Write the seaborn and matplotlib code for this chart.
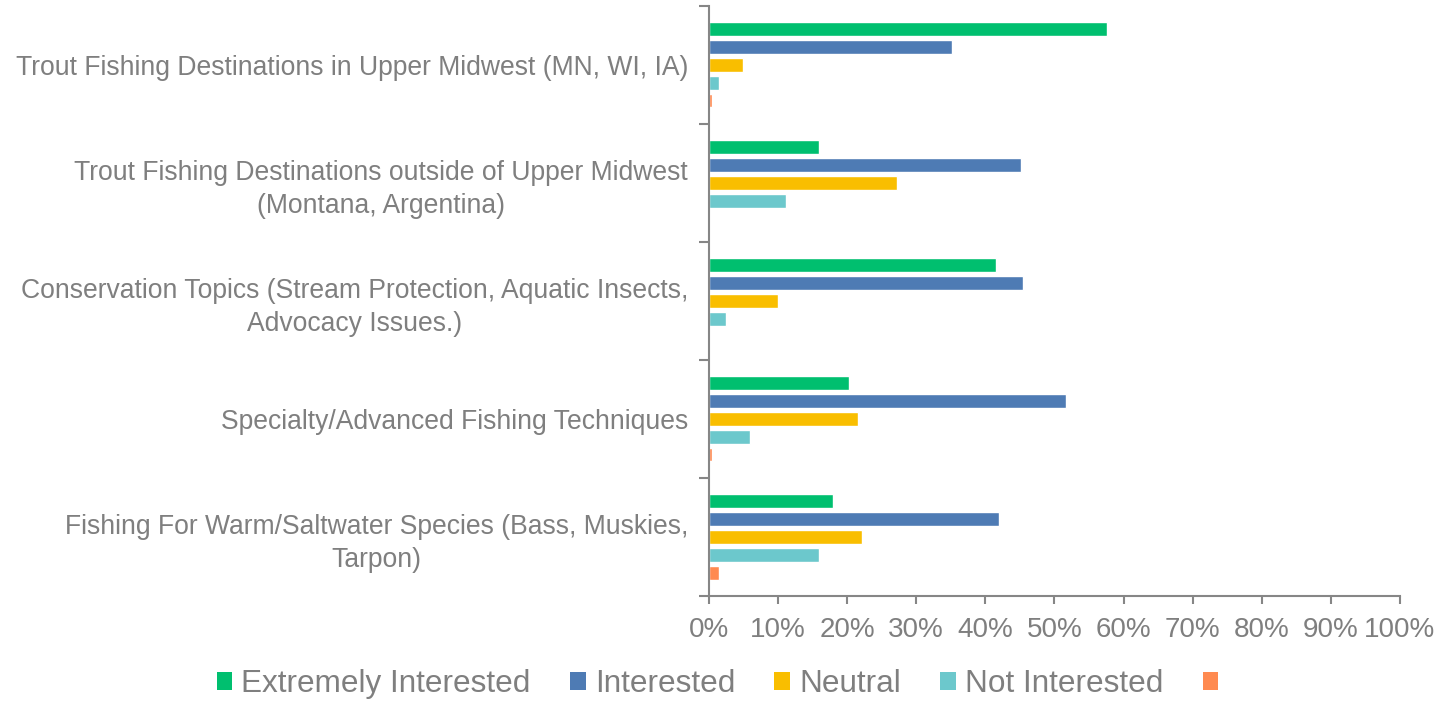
import numpy as np
import pandas as pd
import matplotlib
matplotlib.use("Agg")
import matplotlib.pyplot as plt
import seaborn as sns
from matplotlib.patches import Patch
from matplotlib.ticker import FixedLocator, PercentFormatter

topics = [
    "Trout Fishing Destinations in Upper Midwest (MN, WI, IA)",
    "Trout Fishing Destinations outside of Upper Midwest\n(Montana, Argentina)",
    "Conservation Topics (Stream Protection, Aquatic Insects,\nAdvocacy Issues.)",
    "Specialty/Advanced Fishing Techniques",
    "Fishing For Warm/Saltwater Species (Bass, Muskies,\nTarpon)",
]
responses = ["Extremely Interested", "Interested", "Neutral", "Not Interested", ""]

# percent of respondents, one list per response, in topic order
extremely = [57.6, 15.9, 41.6, 20.2, 18.0]
interested = [35.2, 45.2, 45.4, 51.6, 42.0]
neutral = [4.9, 27.2, 10.0, 21.5, 22.2]
not_interested = [1.4, 11.2, 2.4, 6.0, 15.9]
blank = [0.4, 0.0, 0.0, 0.4, 1.4]

colors = ["#00BF6F", "#4E7BB4", "#F9BE00", "#6CC8CC", "#FF8A50"]
text_gray = "#7f7f7f"
axis_gray = "#868686"

rows = []
for resp, vals in zip(responses, [extremely, interested, neutral, not_interested, blank]):
    for t, v in zip(topics, vals):
        rows.append({"topic": t, "response": resp, "pct": v})
df = pd.DataFrame(rows)

sns.set_style("white")
plt.rcParams["font.family"] = ["Liberation Sans Narrow", "Liberation Sans", "DejaVu Sans"]

fig, ax = plt.subplots(figsize=(14.41, 7.02), dpi=100)
fig.subplots_adjust(left=0.492, right=0.9715, top=0.9915, bottom=0.151)

sns.barplot(data=df, y="topic", x="pct", hue="response", order=topics,
            hue_order=responses, palette=colors, orient="h",
            width=0.76, gap=0.26, legend=False, ax=ax, saturation=1)

ax.set_xlim(0, 100)
ax.set_ylim(len(topics) - 0.5, -0.5)
ax.xaxis.set_major_locator(FixedLocator(np.arange(0, 101, 10)))
ax.xaxis.set_major_formatter(PercentFormatter(decimals=0))
ax.set_xlabel("")
ax.set_ylabel("")

# boundary ticks on y axis, no ticks at the labels
ax.yaxis.set_minor_locator(FixedLocator(np.arange(-0.5, len(topics), 1)))
ax.tick_params(axis="y", which="major", length=0, pad=15, labelsize=19.1, labelcolor=text_gray)
ax.tick_params(axis="y", which="minor", length=7, width=1.5, color=axis_gray, direction="out", left=True)
ax.tick_params(axis="x", which="major", length=6, width=1.5, color=axis_gray, direction="out",
               bottom=True, labelsize=20, labelcolor=text_gray, pad=9)
for lbl in ax.get_yticklabels():
    lbl.set_multialignment("center")
    lbl.set_linespacing(1.35)

sns.despine(ax=ax)
for side in ["left", "bottom"]:
    ax.spines[side].set_color(axis_gray)
    ax.spines[side].set_linewidth(1.5)

handles = [Patch(facecolor=c, edgecolor="none") for c in colors]
fig.legend(handles, responses, loc="center", bbox_to_anchor=(0.501, 0.026), ncol=5,
           frameon=False, fontsize=22.7, labelcolor=text_gray, handlelength=0.5,
           handleheight=0.5, handletextpad=0.28, columnspacing=1.25)

fig.savefig("out.png", dpi=100)
